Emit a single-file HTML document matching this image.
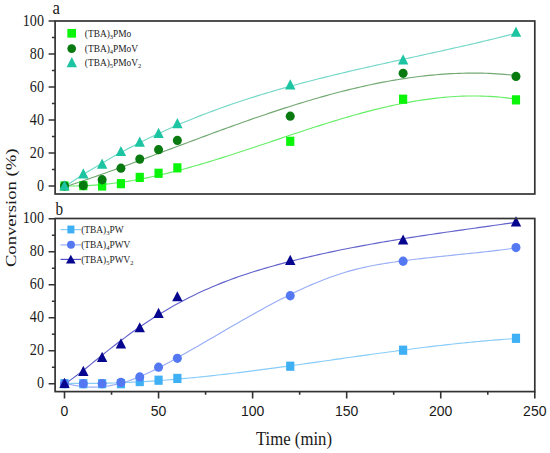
<!DOCTYPE html><html><head><meta charset="utf-8"><style>html,body{margin:0;padding:0;background:#fff;}svg{display:block;}</style></head><body>
<svg width="550" height="453" viewBox="0 0 550 453">
<rect width="550" height="453" fill="#fff"/>
<g fill="none" stroke-width="1.15" stroke-linecap="round">
<path d="M64.50,185.86 L68.29,185.94 L72.09,185.97 L75.88,185.95 L79.68,185.89 L83.47,185.77 L87.26,185.61 L91.06,185.41 L94.85,185.16 L98.65,184.87 L102.44,184.54 L106.24,184.16 L110.03,183.75 L113.82,183.30 L117.62,182.80 L121.41,182.28 L125.21,181.71 L129.00,181.11 L132.79,180.47 L136.59,179.80 L140.38,179.10 L144.18,178.37 L147.97,177.60 L151.76,176.80 L155.56,175.98 L159.35,175.13 L163.15,174.24 L166.94,173.34 L170.74,172.40 L174.53,171.45 L178.32,170.47 L182.12,169.46 L185.91,168.44 L189.71,167.39 L193.50,166.32 L197.29,165.24 L201.09,164.13 L204.88,163.01 L208.68,161.87 L212.47,160.72 L216.26,159.55 L220.06,158.37 L223.85,157.17 L227.65,155.97 L231.44,154.75 L235.24,153.52 L239.03,152.29 L242.82,151.04 L246.62,149.79 L250.41,148.53 L254.21,147.27 L258.00,146.00 L261.79,144.73 L265.59,143.45 L269.38,142.17 L273.18,140.90 L276.97,139.62 L280.76,138.34 L284.56,137.07 L288.35,135.80 L292.15,134.53 L295.94,133.27 L299.74,132.01 L303.53,130.76 L307.32,129.51 L311.12,128.28 L314.91,127.05 L318.71,125.84 L322.50,124.63 L326.29,123.44 L330.09,122.26 L333.88,121.09 L337.68,119.94 L341.47,118.80 L345.26,117.68 L349.06,116.58 L352.85,115.50 L356.65,114.43 L360.44,113.39 L364.24,112.36 L368.03,111.36 L371.82,110.38 L375.62,109.43 L379.41,108.50 L383.21,107.59 L387.00,106.72 L390.79,105.87 L394.59,105.04 L398.38,104.25 L402.18,103.49 L405.97,102.76 L409.76,102.06 L413.56,101.39 L417.35,100.76 L421.15,100.16 L424.94,99.60 L428.74,99.08 L432.53,98.59 L436.32,98.14 L440.12,97.73 L443.91,97.36 L447.71,97.03 L451.50,96.75 L455.29,96.50 L459.09,96.30 L462.88,96.15 L466.68,96.04 L470.47,95.98 L474.26,95.97 L478.06,96.00 L481.85,96.09 L485.65,96.22 L489.44,96.41 L493.24,96.64 L497.03,96.93 L500.82,97.28 L504.62,97.68 L508.41,98.14 L512.21,98.65 L516.00,99.22" stroke="#66ee66"/>
<path d="M64.50,187.05 L68.29,185.80 L72.09,184.53 L75.88,183.26 L79.68,181.97 L83.47,180.68 L87.26,179.37 L91.06,178.05 L94.85,176.73 L98.65,175.39 L102.44,174.04 L106.24,172.69 L110.03,171.33 L113.82,169.96 L117.62,168.59 L121.41,167.21 L125.21,165.82 L129.00,164.43 L132.79,163.03 L136.59,161.63 L140.38,160.22 L144.18,158.81 L147.97,157.40 L151.76,155.98 L155.56,154.56 L159.35,153.14 L163.15,151.72 L166.94,150.30 L170.74,148.87 L174.53,147.45 L178.32,146.03 L182.12,144.60 L185.91,143.18 L189.71,141.76 L193.50,140.35 L197.29,138.93 L201.09,137.52 L204.88,136.11 L208.68,134.71 L212.47,133.31 L216.26,131.91 L220.06,130.52 L223.85,129.14 L227.65,127.76 L231.44,126.39 L235.24,125.03 L239.03,123.67 L242.82,122.32 L246.62,120.98 L250.41,119.65 L254.21,118.33 L258.00,117.02 L261.79,115.71 L265.59,114.42 L269.38,113.14 L273.18,111.88 L276.97,110.62 L280.76,109.38 L284.56,108.14 L288.35,106.93 L292.15,105.72 L295.94,104.54 L299.74,103.36 L303.53,102.20 L307.32,101.06 L311.12,99.93 L314.91,98.82 L318.71,97.73 L322.50,96.65 L326.29,95.59 L330.09,94.55 L333.88,93.53 L337.68,92.53 L341.47,91.55 L345.26,90.59 L349.06,89.64 L352.85,88.72 L356.65,87.83 L360.44,86.95 L364.24,86.09 L368.03,85.26 L371.82,84.45 L375.62,83.67 L379.41,82.91 L383.21,82.17 L387.00,81.46 L390.79,80.78 L394.59,80.12 L398.38,79.49 L402.18,78.88 L405.97,78.31 L409.76,77.76 L413.56,77.23 L417.35,76.74 L421.15,76.28 L424.94,75.84 L428.74,75.44 L432.53,75.07 L436.32,74.72 L440.12,74.41 L443.91,74.13 L447.71,73.89 L451.50,73.67 L455.29,73.49 L459.09,73.34 L462.88,73.23 L466.68,73.15 L470.47,73.11 L474.26,73.10 L478.06,73.13 L481.85,73.19 L485.65,73.29 L489.44,73.43 L493.24,73.61 L497.03,73.82 L500.82,74.08 L504.62,74.37 L508.41,74.70 L512.21,75.07 L516.00,75.48" stroke="#72a872"/>
<path d="M64.50,186.89 L68.29,184.32 L72.09,181.79 L75.88,179.30 L79.68,176.85 L83.47,174.43 L87.26,172.05 L91.06,169.70 L94.85,167.39 L98.65,165.12 L102.44,162.88 L106.24,160.67 L110.03,158.50 L113.82,156.36 L117.62,154.26 L121.41,152.18 L125.21,150.14 L129.00,148.13 L132.79,146.15 L136.59,144.21 L140.38,142.29 L144.18,140.40 L147.97,138.54 L151.76,136.72 L155.56,134.92 L159.35,133.15 L163.15,131.40 L166.94,129.69 L170.74,128.00 L174.53,126.34 L178.32,124.70 L182.12,123.09 L185.91,121.50 L189.71,119.95 L193.50,118.41 L197.29,116.90 L201.09,115.41 L204.88,113.95 L208.68,112.51 L212.47,111.09 L216.26,109.69 L220.06,108.32 L223.85,106.96 L227.65,105.63 L231.44,104.32 L235.24,103.02 L239.03,101.75 L242.82,100.50 L246.62,99.26 L250.41,98.04 L254.21,96.84 L258.00,95.66 L261.79,94.50 L265.59,93.35 L269.38,92.22 L273.18,91.10 L276.97,90.00 L280.76,88.91 L284.56,87.84 L288.35,86.78 L292.15,85.74 L295.94,84.71 L299.74,83.69 L303.53,82.68 L307.32,81.69 L311.12,80.71 L314.91,79.74 L318.71,78.78 L322.50,77.83 L326.29,76.89 L330.09,75.96 L333.88,75.04 L337.68,74.12 L341.47,73.22 L345.26,72.32 L349.06,71.43 L352.85,70.55 L356.65,69.67 L360.44,68.80 L364.24,67.94 L368.03,67.08 L371.82,66.23 L375.62,65.38 L379.41,64.53 L383.21,63.69 L387.00,62.85 L390.79,62.01 L394.59,61.18 L398.38,60.35 L402.18,59.52 L405.97,58.69 L409.76,57.86 L413.56,57.03 L417.35,56.20 L421.15,55.37 L424.94,54.54 L428.74,53.71 L432.53,52.87 L436.32,52.04 L440.12,51.20 L443.91,50.36 L447.71,49.51 L451.50,48.66 L455.29,47.81 L459.09,46.95 L462.88,46.09 L466.68,45.22 L470.47,44.34 L474.26,43.46 L478.06,42.57 L481.85,41.67 L485.65,40.77 L489.44,39.86 L493.24,38.94 L497.03,38.01 L500.82,37.07 L504.62,36.12 L508.41,35.16 L512.21,34.19 L516.00,33.21" stroke="#74d8c8"/>
<path d="M64.50,383.19 L68.29,383.28 L72.09,383.34 L75.88,383.39 L79.68,383.42 L83.47,383.43 L87.26,383.43 L91.06,383.41 L94.85,383.38 L98.65,383.32 L102.44,383.26 L106.24,383.18 L110.03,383.08 L113.82,382.97 L117.62,382.84 L121.41,382.70 L125.21,382.54 L129.00,382.37 L132.79,382.19 L136.59,381.99 L140.38,381.78 L144.18,381.56 L147.97,381.33 L151.76,381.08 L155.56,380.82 L159.35,380.55 L163.15,380.26 L166.94,379.97 L170.74,379.66 L174.53,379.35 L178.32,379.02 L182.12,378.69 L185.91,378.34 L189.71,377.98 L193.50,377.61 L197.29,377.24 L201.09,376.85 L204.88,376.46 L208.68,376.06 L212.47,375.65 L216.26,375.23 L220.06,374.80 L223.85,374.37 L227.65,373.93 L231.44,373.48 L235.24,373.03 L239.03,372.56 L242.82,372.10 L246.62,371.62 L250.41,371.14 L254.21,370.66 L258.00,370.17 L261.79,369.68 L265.59,369.18 L269.38,368.67 L273.18,368.16 L276.97,367.65 L280.76,367.13 L284.56,366.62 L288.35,366.09 L292.15,365.57 L295.94,365.04 L299.74,364.51 L303.53,363.98 L307.32,363.44 L311.12,362.90 L314.91,362.37 L318.71,361.83 L322.50,361.29 L326.29,360.75 L330.09,360.21 L333.88,359.67 L337.68,359.12 L341.47,358.58 L345.26,358.04 L349.06,357.50 L352.85,356.97 L356.65,356.43 L360.44,355.90 L364.24,355.36 L368.03,354.83 L371.82,354.30 L375.62,353.78 L379.41,353.25 L383.21,352.73 L387.00,352.22 L390.79,351.71 L394.59,351.20 L398.38,350.69 L402.18,350.19 L405.97,349.70 L409.76,349.21 L413.56,348.72 L417.35,348.24 L421.15,347.77 L424.94,347.30 L428.74,346.84 L432.53,346.38 L436.32,345.93 L440.12,345.49 L443.91,345.06 L447.71,344.63 L451.50,344.21 L455.29,343.80 L459.09,343.40 L462.88,343.00 L466.68,342.62 L470.47,342.24 L474.26,341.87 L478.06,341.51 L481.85,341.17 L485.65,340.83 L489.44,340.50 L493.24,340.18 L497.03,339.88 L500.82,339.58 L504.62,339.30 L508.41,339.02 L512.21,338.76 L516.00,338.51" stroke="#88ccf8"/>
<path d="M64.50,382.93 L68.29,383.95 L72.09,384.83 L75.88,385.57 L79.68,386.16 L83.47,386.60 L87.26,386.90 L91.06,387.06 L94.85,387.07 L98.65,386.93 L102.44,386.65 L106.24,386.22 L110.03,385.64 L113.82,384.92 L117.62,384.06 L121.41,383.07 L125.21,381.95 L129.00,380.71 L132.79,379.37 L136.59,377.92 L140.38,376.37 L144.18,374.74 L147.97,373.02 L151.76,371.23 L155.56,369.37 L159.35,367.46 L163.15,365.49 L166.94,363.47 L170.74,361.42 L174.53,359.33 L178.32,357.22 L182.12,355.09 L185.91,352.95 L189.71,350.79 L193.50,348.62 L197.29,346.44 L201.09,344.25 L204.88,342.05 L208.68,339.85 L212.47,337.64 L216.26,335.43 L220.06,333.22 L223.85,331.01 L227.65,328.81 L231.44,326.61 L235.24,324.41 L239.03,322.23 L242.82,320.06 L246.62,317.90 L250.41,315.75 L254.21,313.63 L258.00,311.51 L261.79,309.42 L265.59,307.35 L269.38,305.31 L273.18,303.29 L276.97,301.29 L280.76,299.33 L284.56,297.40 L288.35,295.50 L292.15,293.63 L295.94,291.80 L299.74,290.01 L303.53,288.26 L307.32,286.55 L311.12,284.88 L314.91,283.27 L318.71,281.70 L322.50,280.18 L326.29,278.72 L330.09,277.31 L333.88,275.96 L337.68,274.67 L341.47,273.43 L345.26,272.27 L349.06,271.17 L352.85,270.13 L356.65,269.15 L360.44,268.23 L364.24,267.36 L368.03,266.55 L371.82,265.78 L375.62,265.06 L379.41,264.37 L383.21,263.72 L387.00,263.11 L390.79,262.53 L394.59,261.97 L398.38,261.44 L402.18,260.92 L405.97,260.43 L409.76,259.95 L413.56,259.48 L417.35,259.02 L421.15,258.58 L424.94,258.15 L428.74,257.73 L432.53,257.31 L436.32,256.91 L440.12,256.51 L443.91,256.11 L447.71,255.72 L451.50,255.33 L455.29,254.94 L459.09,254.55 L462.88,254.16 L466.68,253.77 L470.47,253.37 L474.26,252.97 L478.06,252.57 L481.85,252.15 L485.65,251.73 L489.44,251.31 L493.24,250.87 L497.03,250.41 L500.82,249.95 L504.62,249.47 L508.41,248.98 L512.21,248.47 L516.00,247.95" stroke="#98aef6"/>
<path d="M64.50,384.13 L68.29,381.56 L72.09,378.86 L75.88,376.05 L79.68,373.16 L83.47,370.20 L87.26,367.18 L91.06,364.13 L94.85,361.06 L98.65,357.99 L102.44,354.94 L106.24,351.91 L110.03,348.92 L113.82,345.97 L117.62,343.06 L121.41,340.18 L125.21,337.35 L129.00,334.57 L132.79,331.84 L136.59,329.16 L140.38,326.53 L144.18,323.96 L147.97,321.44 L151.76,318.98 L155.56,316.57 L159.35,314.22 L163.15,311.92 L166.94,309.68 L170.74,307.49 L174.53,305.35 L178.32,303.26 L182.12,301.22 L185.91,299.24 L189.71,297.31 L193.50,295.43 L197.29,293.60 L201.09,291.82 L204.88,290.09 L208.68,288.41 L212.47,286.77 L216.26,285.19 L220.06,283.64 L223.85,282.14 L227.65,280.68 L231.44,279.27 L235.24,277.89 L239.03,276.55 L242.82,275.24 L246.62,273.97 L250.41,272.73 L254.21,271.53 L258.00,270.35 L261.79,269.21 L265.59,268.09 L269.38,267.00 L273.18,265.93 L276.97,264.89 L280.76,263.87 L284.56,262.86 L288.35,261.88 L292.15,260.92 L295.94,259.97 L299.74,259.04 L303.53,258.12 L307.32,257.22 L311.12,256.34 L314.91,255.47 L318.71,254.61 L322.50,253.78 L326.29,252.95 L330.09,252.14 L333.88,251.34 L337.68,250.56 L341.47,249.78 L345.26,249.02 L349.06,248.28 L352.85,247.54 L356.65,246.82 L360.44,246.10 L364.24,245.40 L368.03,244.71 L371.82,244.03 L375.62,243.35 L379.41,242.69 L383.21,242.04 L387.00,241.39 L390.79,240.76 L394.59,240.13 L398.38,239.51 L402.18,238.90 L405.97,238.29 L409.76,237.69 L413.56,237.10 L417.35,236.51 L421.15,235.93 L424.94,235.35 L428.74,234.78 L432.53,234.22 L436.32,233.66 L440.12,233.10 L443.91,232.54 L447.71,231.99 L451.50,231.45 L455.29,230.90 L459.09,230.36 L462.88,229.82 L466.68,229.28 L470.47,228.74 L474.26,228.21 L478.06,227.67 L481.85,227.13 L485.65,226.60 L489.44,226.06 L493.24,225.53 L497.03,224.99 L500.82,224.45 L504.62,223.91 L508.41,223.37 L512.21,222.82 L516.00,222.27" stroke="#6262cc"/>
</g>
<rect x="60.40" y="181.40" width="8.2" height="9.2" fill="#0af50a"/>
<rect x="79.21" y="181.07" width="8.2" height="9.2" fill="#0af50a"/>
<rect x="98.02" y="181.40" width="8.2" height="9.2" fill="#0af50a"/>
<rect x="116.84" y="179.09" width="8.2" height="9.2" fill="#0af50a"/>
<rect x="135.65" y="172.82" width="8.2" height="9.2" fill="#0af50a"/>
<rect x="154.46" y="168.69" width="8.2" height="9.2" fill="#0af50a"/>
<rect x="173.27" y="163.25" width="8.2" height="9.2" fill="#0af50a"/>
<rect x="286.14" y="136.69" width="8.2" height="9.2" fill="#0af50a"/>
<rect x="399.02" y="94.61" width="8.2" height="9.2" fill="#0af50a"/>
<rect x="511.89" y="95.27" width="8.2" height="9.2" fill="#0af50a"/>
<ellipse cx="64.50" cy="186.00" rx="4.5" ry="4.65" fill="#087a10"/>
<ellipse cx="83.31" cy="185.50" rx="4.5" ry="4.65" fill="#087a10"/>
<ellipse cx="102.12" cy="179.73" rx="4.5" ry="4.65" fill="#087a10"/>
<ellipse cx="120.94" cy="168.18" rx="4.5" ry="4.65" fill="#087a10"/>
<ellipse cx="139.75" cy="159.10" rx="4.5" ry="4.65" fill="#087a10"/>
<ellipse cx="158.56" cy="149.70" rx="4.5" ry="4.65" fill="#087a10"/>
<ellipse cx="177.37" cy="140.46" rx="4.5" ry="4.65" fill="#087a10"/>
<ellipse cx="290.24" cy="116.21" rx="4.5" ry="4.65" fill="#087a10"/>
<ellipse cx="403.12" cy="73.31" rx="4.5" ry="4.65" fill="#087a10"/>
<ellipse cx="515.99" cy="76.44" rx="4.5" ry="4.65" fill="#087a10"/>
<polygon points="59.30,190.44 69.70,190.44 64.50,180.24" fill="#1cc4a2"/>
<polygon points="78.11,178.39 88.51,178.39 83.31,168.19" fill="#1cc4a2"/>
<polygon points="96.92,168.82 107.32,168.82 102.12,158.62" fill="#1cc4a2"/>
<polygon points="115.74,156.12 126.14,156.12 120.94,145.92" fill="#1cc4a2"/>
<polygon points="134.55,146.72 144.95,146.72 139.75,136.52" fill="#1cc4a2"/>
<polygon points="153.36,137.97 163.76,137.97 158.56,127.77" fill="#1cc4a2"/>
<polygon points="172.17,128.23 182.57,128.23 177.37,118.03" fill="#1cc4a2"/>
<polygon points="285.04,89.46 295.44,89.46 290.24,79.26" fill="#1cc4a2"/>
<polygon points="397.92,64.38 408.32,64.38 403.12,54.18" fill="#1cc4a2"/>
<polygon points="510.79,36.66 521.19,36.66 515.99,26.46" fill="#1cc4a2"/>
<rect x="60.40" y="379.10" width="8.2" height="9.2" fill="#40b0f4"/>
<rect x="79.21" y="379.10" width="8.2" height="9.2" fill="#40b0f4"/>
<rect x="98.02" y="379.10" width="8.2" height="9.2" fill="#40b0f4"/>
<rect x="116.84" y="379.10" width="8.2" height="9.2" fill="#40b0f4"/>
<rect x="135.65" y="376.95" width="8.2" height="9.2" fill="#40b0f4"/>
<rect x="154.46" y="375.63" width="8.2" height="9.2" fill="#40b0f4"/>
<rect x="173.27" y="373.82" width="8.2" height="9.2" fill="#40b0f4"/>
<rect x="286.14" y="361.61" width="8.2" height="9.2" fill="#40b0f4"/>
<rect x="399.02" y="345.60" width="8.2" height="9.2" fill="#40b0f4"/>
<rect x="511.89" y="333.72" width="8.2" height="9.2" fill="#40b0f4"/>
<ellipse cx="64.50" cy="383.70" rx="4.5" ry="4.65" fill="#5478f2"/>
<ellipse cx="83.31" cy="383.70" rx="4.5" ry="4.65" fill="#5478f2"/>
<ellipse cx="102.12" cy="383.70" rx="4.5" ry="4.65" fill="#5478f2"/>
<ellipse cx="120.94" cy="382.38" rx="4.5" ry="4.65" fill="#5478f2"/>
<ellipse cx="139.75" cy="376.94" rx="4.5" ry="4.65" fill="#5478f2"/>
<ellipse cx="158.56" cy="367.20" rx="4.5" ry="4.65" fill="#5478f2"/>
<ellipse cx="177.37" cy="358.29" rx="4.5" ry="4.65" fill="#5478f2"/>
<ellipse cx="290.24" cy="295.75" rx="4.5" ry="4.65" fill="#5478f2"/>
<ellipse cx="403.12" cy="261.27" rx="4.5" ry="4.65" fill="#5478f2"/>
<ellipse cx="515.99" cy="247.57" rx="4.5" ry="4.65" fill="#5478f2"/>
<polygon points="59.30,387.98 69.70,387.98 64.50,377.77" fill="#06068e"/>
<polygon points="78.11,375.93 88.51,375.93 83.31,365.73" fill="#06068e"/>
<polygon points="96.92,361.91 107.32,361.91 102.12,351.70" fill="#06068e"/>
<polygon points="115.74,348.54 126.14,348.54 120.94,338.34" fill="#06068e"/>
<polygon points="134.55,332.37 144.95,332.37 139.75,322.17" fill="#06068e"/>
<polygon points="153.36,318.01 163.76,318.01 158.56,307.81" fill="#06068e"/>
<polygon points="172.17,301.35 182.57,301.35 177.37,291.15" fill="#06068e"/>
<polygon points="285.04,264.89 295.44,264.89 290.24,254.69" fill="#06068e"/>
<polygon points="397.92,244.59 408.32,244.59 403.12,234.39" fill="#06068e"/>
<polygon points="510.79,226.44 521.19,226.44 515.99,216.24" fill="#06068e"/>
<rect x="55.1" y="21.0" width="479.69999999999993" height="173.0" fill="none" stroke="#333333" stroke-width="1.7"/>
<rect x="55.1" y="218.5" width="479.69999999999993" height="173.10000000000002" fill="none" stroke="#333333" stroke-width="1.7"/>
<path d="M48.60,186.00H55.1 M51.90,169.50H55.1 M48.60,153.00H55.1 M51.90,136.50H55.1 M48.60,120.00H55.1 M51.90,103.50H55.1 M48.60,87.00H55.1 M51.90,70.50H55.1 M48.60,54.00H55.1 M51.90,37.50H55.1 M48.60,21.00H55.1 M48.60,383.70H55.1 M51.90,367.20H55.1 M48.60,350.70H55.1 M51.90,334.20H55.1 M48.60,317.70H55.1 M51.90,301.20H55.1 M48.60,284.70H55.1 M51.90,268.20H55.1 M48.60,251.70H55.1 M51.90,235.20H55.1 M48.60,218.70H55.1 M64.50,391.6V398.60 M111.53,391.6V394.80 M158.56,391.6V398.60 M205.59,391.6V394.80 M252.62,391.6V398.60 M299.65,391.6V394.80 M346.68,391.6V398.60 M393.71,391.6V394.80 M440.74,391.6V398.60 M487.77,391.6V394.80 M534.80,391.6V398.60" stroke="#333333" stroke-width="1.6" fill="none"/>
<text x="44.0" y="190.65" text-anchor="end" font-family="Liberation Serif" font-size="15.9" fill="#1a1a1a" transform="translate(44.0,0) scale(0.89,1) translate(-44.0,0)">0</text>
<text x="44.0" y="157.65" text-anchor="end" font-family="Liberation Serif" font-size="15.9" fill="#1a1a1a" transform="translate(44.0,0) scale(0.89,1) translate(-44.0,0)">20</text>
<text x="44.0" y="124.65" text-anchor="end" font-family="Liberation Serif" font-size="15.9" fill="#1a1a1a" transform="translate(44.0,0) scale(0.89,1) translate(-44.0,0)">40</text>
<text x="44.0" y="91.65" text-anchor="end" font-family="Liberation Serif" font-size="15.9" fill="#1a1a1a" transform="translate(44.0,0) scale(0.89,1) translate(-44.0,0)">60</text>
<text x="44.0" y="58.65" text-anchor="end" font-family="Liberation Serif" font-size="15.9" fill="#1a1a1a" transform="translate(44.0,0) scale(0.89,1) translate(-44.0,0)">80</text>
<text x="44.0" y="25.65" text-anchor="end" font-family="Liberation Serif" font-size="15.9" fill="#1a1a1a" transform="translate(44.0,0) scale(0.89,1) translate(-44.0,0)">100</text>
<text x="44.0" y="388.35" text-anchor="end" font-family="Liberation Serif" font-size="15.9" fill="#1a1a1a" transform="translate(44.0,0) scale(0.89,1) translate(-44.0,0)">0</text>
<text x="44.0" y="355.35" text-anchor="end" font-family="Liberation Serif" font-size="15.9" fill="#1a1a1a" transform="translate(44.0,0) scale(0.89,1) translate(-44.0,0)">20</text>
<text x="44.0" y="322.35" text-anchor="end" font-family="Liberation Serif" font-size="15.9" fill="#1a1a1a" transform="translate(44.0,0) scale(0.89,1) translate(-44.0,0)">40</text>
<text x="44.0" y="289.35" text-anchor="end" font-family="Liberation Serif" font-size="15.9" fill="#1a1a1a" transform="translate(44.0,0) scale(0.89,1) translate(-44.0,0)">60</text>
<text x="44.0" y="256.35" text-anchor="end" font-family="Liberation Serif" font-size="15.9" fill="#1a1a1a" transform="translate(44.0,0) scale(0.89,1) translate(-44.0,0)">80</text>
<text x="44.0" y="223.35" text-anchor="end" font-family="Liberation Serif" font-size="15.9" fill="#1a1a1a" transform="translate(44.0,0) scale(0.89,1) translate(-44.0,0)">100</text>
<text x="64.50" y="416" text-anchor="middle" font-family="Liberation Sans" font-size="15.3" fill="#1a1a1a" transform="translate(64.50,0) scale(0.915,1) translate(-64.50,0)">0</text>
<text x="158.56" y="416" text-anchor="middle" font-family="Liberation Sans" font-size="15.3" fill="#1a1a1a" transform="translate(158.56,0) scale(0.915,1) translate(-158.56,0)">50</text>
<text x="252.62" y="416" text-anchor="middle" font-family="Liberation Sans" font-size="15.3" fill="#1a1a1a" transform="translate(252.62,0) scale(0.915,1) translate(-252.62,0)">100</text>
<text x="346.68" y="416" text-anchor="middle" font-family="Liberation Sans" font-size="15.3" fill="#1a1a1a" transform="translate(346.68,0) scale(0.915,1) translate(-346.68,0)">150</text>
<text x="440.74" y="416" text-anchor="middle" font-family="Liberation Sans" font-size="15.3" fill="#1a1a1a" transform="translate(440.74,0) scale(0.915,1) translate(-440.74,0)">200</text>
<text x="534.80" y="416" text-anchor="middle" font-family="Liberation Sans" font-size="15.3" fill="#1a1a1a" transform="translate(534.80,0) scale(0.915,1) translate(-534.80,0)">250</text>
<text x="52.6" y="13.9" font-family="Liberation Serif" font-size="19.5" fill="#1a1a1a" transform="translate(52.6,0) scale(0.86,1) translate(-52.6,0)">a</text>
<text x="55.5" y="214.7" font-family="Liberation Serif" font-size="19" fill="#1a1a1a" transform="translate(55.5,0) scale(0.8,1) translate(-55.5,0)">b</text>
<text x="0" y="0" font-family="Liberation Serif" font-size="18.6" fill="#1a1a1a" textLength="118.6" lengthAdjust="spacingAndGlyphs" transform="translate(16.0,267.1) scale(0.84,1) rotate(-90)">Conversion (%)</text>
<text x="256" y="444.8" font-family="Liberation Serif" font-size="18.9" fill="#1a1a1a" textLength="76" lengthAdjust="spacingAndGlyphs">Time (min)</text>
<rect x="67.35" y="28.95" width="8.7" height="8.7" fill="#0af50a"/>
<ellipse cx="71.70" cy="48.60" rx="4.35" ry="4.35" fill="#087a10"/>
<polygon points="66.60,67.30 77.00,67.30 71.80,57.10" fill="#1cc4a2"/>
<text x="84.8" y="36.7" font-family="Liberation Serif" font-size="9.4" fill="#222">(TBA)<tspan font-size="6.5" dy="2">3</tspan><tspan dy="-2">PMo</tspan></text>
<text x="84.8" y="52.3" font-family="Liberation Serif" font-size="9.4" fill="#222">(TBA)<tspan font-size="6.5" dy="2">4</tspan><tspan dy="-2">PMoV</tspan></text>
<text x="84.8" y="66.1" font-family="Liberation Serif" font-size="9.4" fill="#222">(TBA)<tspan font-size="6.5" dy="2">5</tspan><tspan dy="-2">PMoV</tspan><tspan font-size="6.5" dy="2">2</tspan></text>
<path d="M60.5,229.6H81" stroke="#88ccf8" stroke-width="1.2"/>
<path d="M60.5,244.9H81" stroke="#98aef6" stroke-width="1.2"/>
<path d="M60.5,259.4H81" stroke="#5252c8" stroke-width="1.2"/>
<rect x="67.40" y="225.55" width="7.0" height="7.9" fill="#40b0f4"/>
<ellipse cx="71.00" cy="244.80" rx="3.95" ry="4.0" fill="#5478f2"/>
<polygon points="66.00,263.60 75.60,263.60 70.80,254.80" fill="#06068e"/>
<text x="81.2" y="233.0" font-family="Liberation Serif" font-size="9.4" fill="#222">(TBA)<tspan font-size="6.5" dy="2">3</tspan><tspan dy="-2">PW</tspan></text>
<text x="81.2" y="248.3" font-family="Liberation Serif" font-size="9.4" fill="#222">(TBA)<tspan font-size="6.5" dy="2">4</tspan><tspan dy="-2">PWV</tspan></text>
<text x="81.2" y="262.8" font-family="Liberation Serif" font-size="9.4" fill="#222">(TBA)<tspan font-size="6.5" dy="2">5</tspan><tspan dy="-2">PWV</tspan><tspan font-size="6.5" dy="2">2</tspan></text>
</svg></body></html>
